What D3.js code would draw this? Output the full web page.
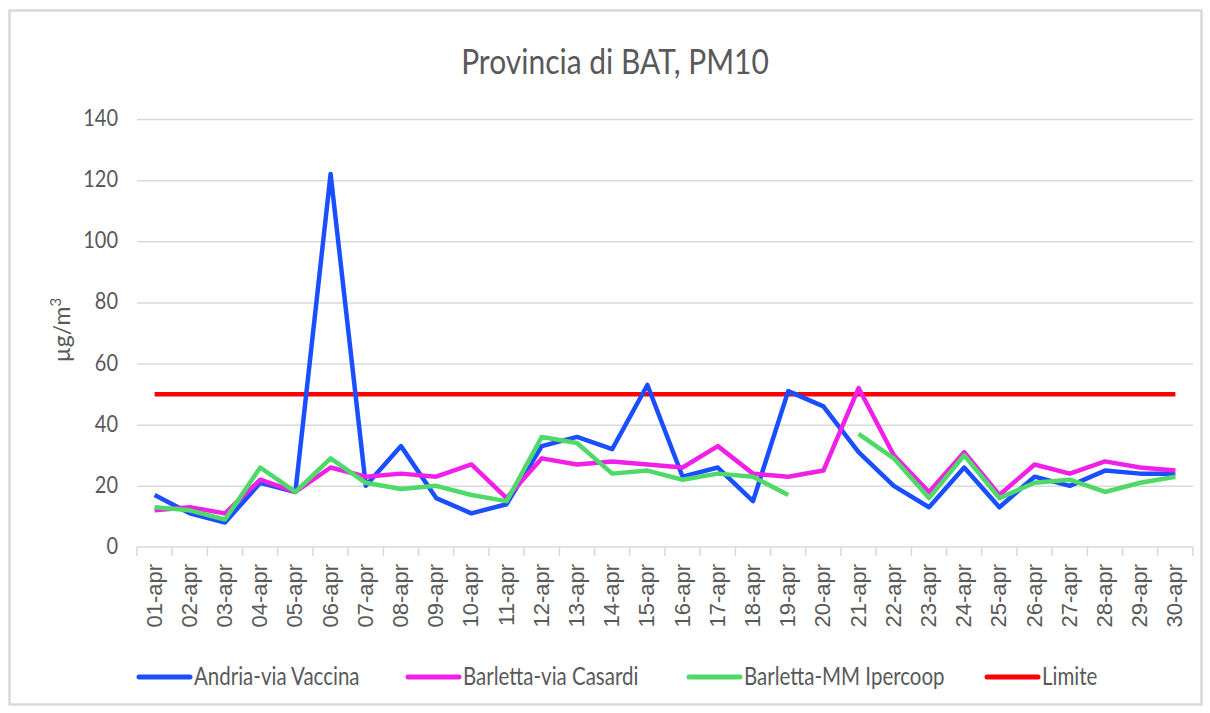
<!DOCTYPE html>
<html>
<head>
<meta charset="utf-8">
<script src="https://cdn.jsdelivr.net/npm/d3@7"></script>
<style>
    body { margin: 0; background: #fff; }
    svg { display: block; }
    .grid line { stroke: #d9d9d9; stroke-width: 1.5; }
    .grid path { display: none; }
    .axis path, .axis line { stroke: #d9d9d9; stroke-width: 1.5; }
    .series { fill: none; stroke-width: 4.5; stroke-linejoin: round; }
    .txt { fill: #595959; }
</style>
</head>
<body>
<svg width="1210" height="713"></svg>
<script>
const height = 713
const width = 1210
const margins = {
    top: 119,
    bottom: 166,
    left: 137,
    right: 17
}

// Data
const days = ["01-apr","02-apr","03-apr","04-apr","05-apr","06-apr","07-apr","08-apr","09-apr","10-apr",
    "11-apr","12-apr","13-apr","14-apr","15-apr","16-apr","17-apr","18-apr","19-apr","20-apr",
    "21-apr","22-apr","23-apr","24-apr","25-apr","26-apr","27-apr","28-apr","29-apr","30-apr"]
const andria = [17,11,8,21,18,122,20,33,16,11,14,33,36,32,53,23,26,15,51,46,31,20,13,26,13,23,20,25,24,24]
const casardi = [12,13,11,22,18,26,23,24,23,27,16,29,27,28,27,26,33,24,23,25,52,30,18,31,17,27,24,28,26,25]
const ipercoop = [13,12,9,26,18,29,21,19,20,17,15,36,34,24,25,22,24,23,17,null,37,29,16,30,16,21,22,18,21,23]
const limite = days.map(() => 50)
const yTicks = [0,20,40,60,80,100,120,140]

const series = [
    {name: "Andria-via Vaccina", values: andria, color: "#1a4fff", w: 4.8},
    {name: "Barletta-via Casardi", values: casardi, color: "#f020e6", w: 4.8},
    {name: "Barletta-MM Ipercoop", values: ipercoop, color: "#4fd968", w: 4.8},
    {name: "Limite", values: limite, color: "#ff0000", w: 5.5}
]

let svg = d3.select('svg')

// Outer border
svg.append('rect')
    .attr('x', 9.5).attr('y', 10.5)
    .attr('width', 1192).attr('height', 694)
    .attr('fill', 'none')
    .attr('stroke', '#d9d9d9')
    .attr('stroke-width', 2.5)

// Scales
let xScale = d3.scaleBand()
    .domain(days)
    .range([margins.left, width - margins.right])
let yScale = d3.scaleLinear()
    .domain([0, 140])
    .range([height - margins.bottom, margins.top])

// Title
svg.append('text')
    .attr('class', 'txt')
    .attr('x', 615).attr('y', 0)
    .attr('transform', 'translate(0,74) scale(1,1.15)')
    .attr('text-anchor', 'middle')
    .style('font-family', 'Lato')
    .style('font-size', '30px')
    .text('Provincia di BAT, PM10')

// Grid lines
svg.append('g')
    .attr('class', 'grid')
    .attr('transform', `translate(${margins.left},0)`)
    .call(d3.axisRight(yScale)
        .tickValues(yTicks.filter(d => d > 0))
        .tickSize(width - margins.left - margins.right)
        .tickFormat(''))

// Y tick labels
svg.append('g')
    .selectAll('text')
    .data(yTicks)
    .enter()
    .append('text')
    .attr('class', 'txt')
    .attr('text-anchor', 'end')
    .attr('transform', d => `translate(118,${yScale(d) + 7}) scale(1,1.2)`)
    .style('font-family', 'Lato')
    .style('font-size', '20px')
    .text(d => d)

// Y axis title
let yTitle = svg.append('text')
    .attr('class', 'txt')
    .attr('transform', 'translate(70,330) rotate(-90)')
    .attr('text-anchor', 'middle')
    .style('font-family', 'Lato')
    .style('font-size', '23px')
yTitle.append('tspan').text('µg/m')
yTitle.append('tspan')
    .attr('dy', -9)
    .style('font-size', '15px')
    .text('3')

// X axis with ticks at category borders
let edges = days.map(d => xScale(d)).concat([width - margins.right])
let xAxis = svg.append('g')
    .attr('class', 'axis')
    .attr('transform', `translate(0,${yScale(0)})`)
xAxis.append('line')
    .attr('x1', margins.left).attr('x2', width - margins.right)
xAxis.selectAll('.tk')
    .data(edges)
    .enter()
    .append('line')
    .attr('x1', d => d).attr('x2', d => d)
    .attr('y1', 0).attr('y2', 9)

// X labels
svg.append('g')
    .selectAll('text')
    .data(days)
    .enter()
    .append('text')
    .attr('class', 'txt')
    .attr('text-anchor', 'end')
    .attr('transform', d => `translate(${xScale(d) + xScale.bandwidth() / 2 + 7},564) rotate(-90)`)
    .style('font-family', 'Liberation Sans')
    .style('font-size', '22px')
    .text(d => d)

// Lines
let lineGen = d3.line()
    .defined(d => d != null)
    .x((d, i) => xScale(days[i]) + xScale.bandwidth() / 2)
    .y(d => yScale(d))

svg.append('g')
    .selectAll('path')
    .data([series[3], series[0], series[1], series[2]])
    .enter()
    .append('path')
    .attr('class', 'series')
    .attr('d', d => lineGen(d.values))
    .attr('stroke', d => d.color)
    .attr('stroke-width', d => d.w)

// Legend
const legendX = [139, 408, 689, 987]
const legend = svg.append('g')
    .selectAll('g')
    .data(series)
    .enter()
    .append('g')
    .attr('transform', (d, i) => `translate(${legendX[i]},677)`)
legend.append('line')
    .attr('x1', 0).attr('x2', 51)
    .attr('stroke', d => d.color)
    .attr('stroke-width', 5)
    .attr('stroke-linecap', 'round')
legend.append('text')
    .attr('class', 'txt')
    .attr('transform', 'translate(55,8) scale(1,1.2)')
    .style('font-family', 'Lato')
    .style('font-size', '20.5px')
    .text(d => d.name)
</script>
</body>
</html>
